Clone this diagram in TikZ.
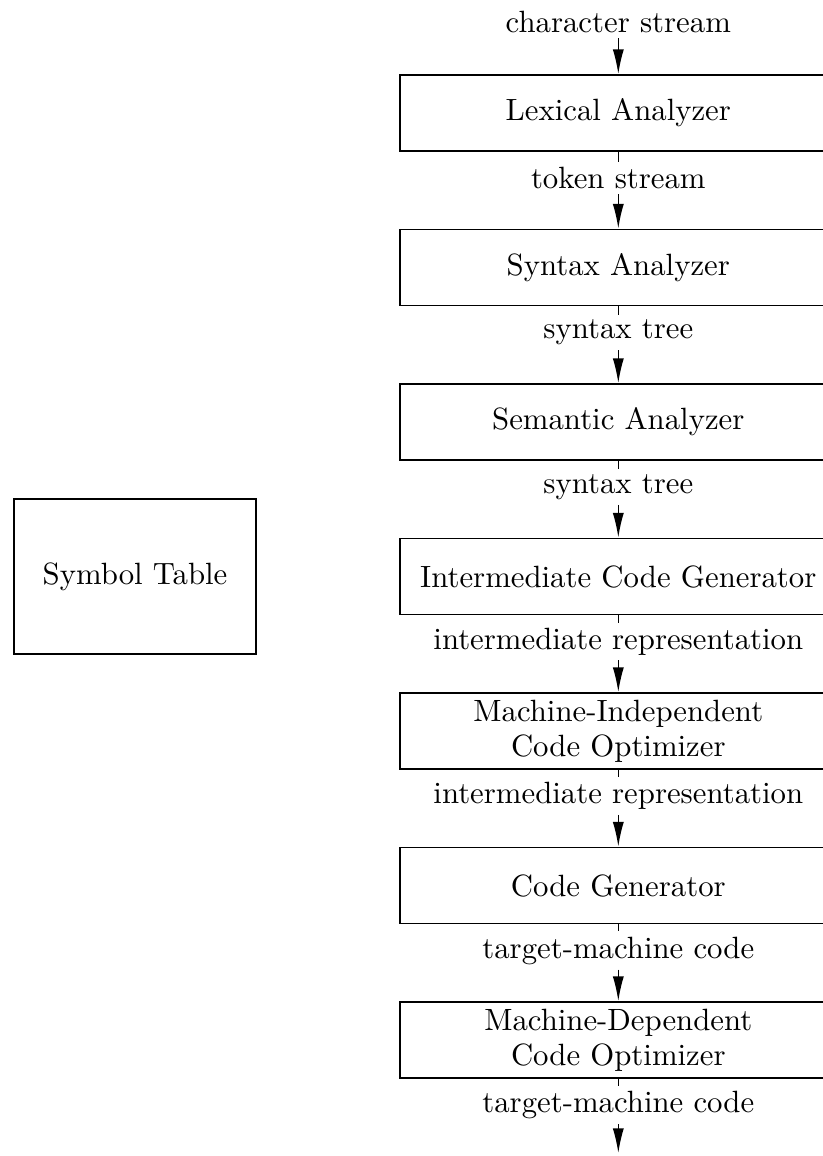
\documentclass[tikz,border=0pt]{standalone}
\usetikzlibrary{arrows.meta}
\begin{document}
\begin{tikzpicture}[x=0.325pt,y=-0.325pt,
  font=\fontsize{10}{11.4}\selectfont,
  stagebox/.style={draw,line width=0.6pt,minimum width=141.9pt,minimum height=24.7pt,align=center,inner sep=2pt},
  symbox/.style={draw,line width=0.6pt,minimum width=78.6pt,minimum height=50.4pt},
  flowlabel/.style={fill=white,inner xsep=2pt,inner ysep=1.5pt},
  conn/.style={line width=0.45pt},
  arr/.style={line width=0.45pt,-{Latex[length=8pt,width=3.6pt]}}]
\useasboundingbox (0,0) rectangle (823,1156);
\clip (0,0) rectangle (823,1156);
\node[symbox] (sym) at (135,576.5) {Symbol Table};
\node[stagebox] (lex) at (618.3,113) {Lexical Analyzer};
\node[stagebox] (syn) at (618.3,267.5) {Syntax Analyzer};
\node[stagebox] (sem) at (618.3,422) {Semantic Analyzer};
\node[stagebox] (icg) at (618.3,576.5) {Intermediate Code Generator};
\node[stagebox] (mio) at (618.3,731) {Machine-Independent\\Code Optimizer};
\node[stagebox] (cg) at (618.3,885.5) {Code Generator};
\node[stagebox] (mdo) at (618.3,1040) {Machine-Dependent\\Code Optimizer};
\node[flowlabel] (l0) at (618.3,22) {character stream};
\node[flowlabel] (l1) at (618.3,178) {token stream};
\node[flowlabel] (l2) at (618.3,332.5) {syntax tree};
\node[flowlabel] (l3) at (618.3,487) {syntax tree};
\node[flowlabel] (l4) at (618.3,641.5) {intermediate representation};
\node[flowlabel] (l5) at (618.3,796) {intermediate representation};
\node[flowlabel] (l6) at (618.3,950.5) {target-machine code};
\node[flowlabel] (l7) at (618.3,1105) {target-machine code};
\coordinate (out) at (618.3,1153);
\draw[arr] (l0) -- (lex);
\draw[conn] (lex) -- (l1); \draw[arr] (l1) -- (syn);
\draw[conn] (syn) -- (l2); \draw[arr] (l2) -- (sem);
\draw[conn] (sem) -- (l3); \draw[arr] (l3) -- (icg);
\draw[conn] (icg) -- (l4); \draw[arr] (l4) -- (mio);
\draw[conn] (mio) -- (l5); \draw[arr] (l5) -- (cg);
\draw[conn] (cg) -- (l6); \draw[arr] (l6) -- (mdo);
\draw[conn] (mdo) -- (l7); \draw[arr] (l7) -- (out);
\end{tikzpicture}
\end{document}
